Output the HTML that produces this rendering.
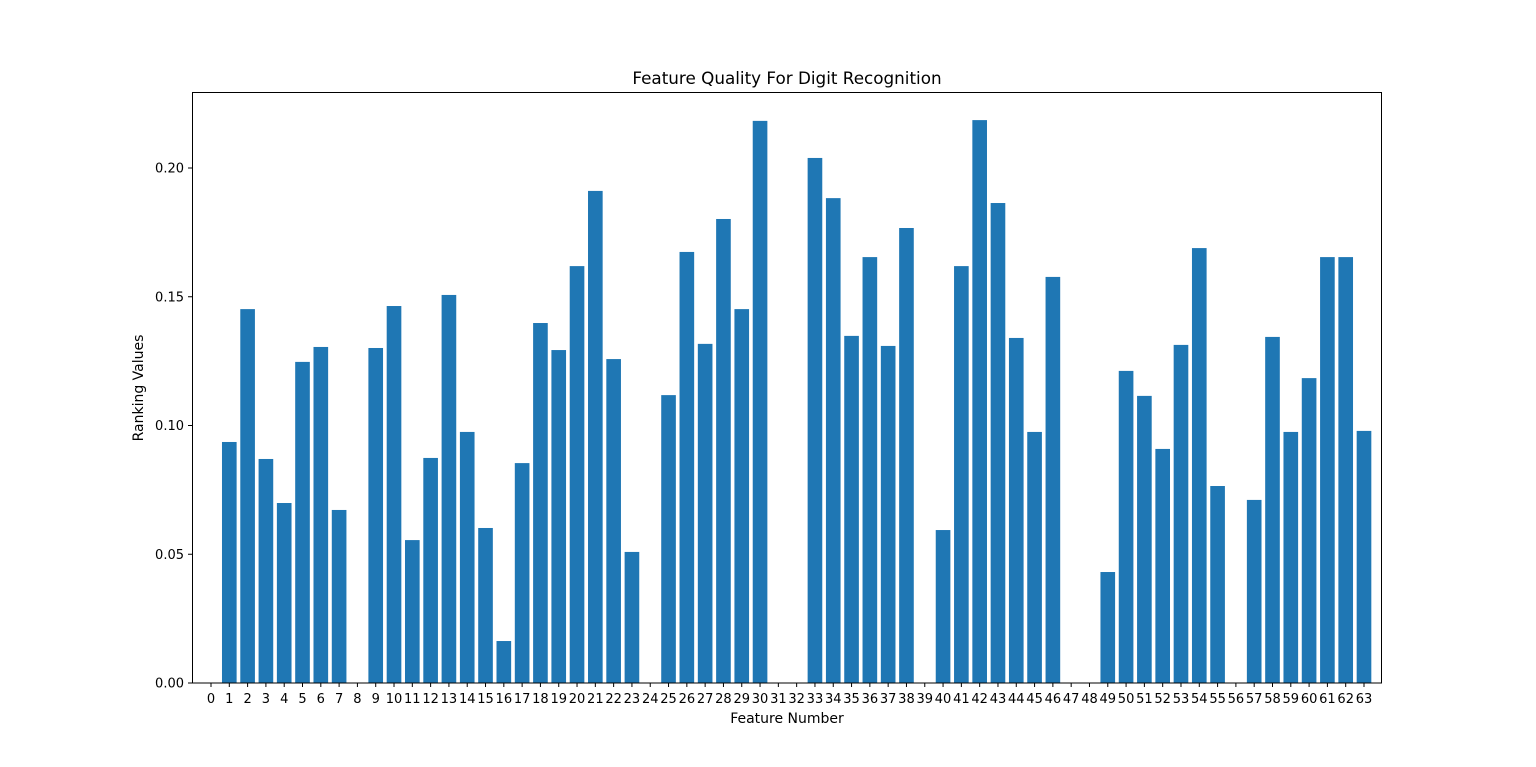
<!DOCTYPE html>
<html><head><meta charset="utf-8"><style>
html,body{margin:0;padding:0;background:#fff;}
svg{display:block;font-family:"DejaVu Sans","Liberation Sans",sans-serif;}
</style></head><body>
<svg id="chart" width="1536" height="767" viewBox="0 0 1536 767" xmlns="http://www.w3.org/2000/svg">
<text x="787" y="84" font-size="16.8" text-anchor="middle">Feature Quality For Digit Recognition</text>
<text x="787" y="723" font-size="14" text-anchor="middle">Feature Number</text>
<text x="0" y="0" font-size="14" text-anchor="middle" transform="translate(143,388) rotate(-90)">Ranking Values</text>
<g id="bars"></g><g id="ticks"></g>
<rect x="192.5" y="92.5" width="1189" height="590.5" fill="none" stroke="#000" stroke-width="1"/>
</svg>
<script>
const categories = Array.from({length:64},(_,i)=>String(i));
const values = [0,0.0936,0.1452,0.087,0.0699,0.1247,0.1305,0.0672,0,0.1301,0.1464,0.0555,0.0874,0.1507,0.0975,0.0602,0.0163,0.0854,0.1398,0.1293,0.1619,0.1911,0.1258,0.0509,0,0.1118,0.1674,0.1317,0.1802,0.1452,0.2183,0,0,0.2039,0.1883,0.1348,0.1654,0.1309,0.1767,0,0.0594,0.1619,0.2186,0.1864,0.134,0.0975,0.1577,0,0,0.0431,0.1212,0.1115,0.0909,0.1313,0.1689,0.0765,0,0.0711,0.1344,0.0975,0.1184,0.1654,0.1654,0.0979];
const yTicks = [0,0.05,0.10,0.15,0.20];
const yTickLabels = ["0.00","0.05","0.10","0.15","0.20"];

const NS="http://www.w3.org/2000/svg";
const x0=211, step=(1364-211)/63, bw=step*0.8;
const xScale=i=>x0+i*step;
const yScale=v=>683-v*2575;
const bars=document.getElementById('bars'), ticks=document.getElementById('ticks');
values.forEach((v,i)=>{
  const r=document.createElementNS(NS,'rect');
  
  
  const top=yScale(v);
  r.setAttribute('x',xScale(i)-bw/2);r.setAttribute('y',top);
  r.setAttribute('width',bw);r.setAttribute('height',683-top);
  r.setAttribute('fill','#1f77b4');
  bars.appendChild(r);
  const t=document.createElementNS(NS,'line');
  
  
  t.setAttribute('x1',xScale(i));t.setAttribute('x2',xScale(i));
  t.setAttribute('y1',683);t.setAttribute('y2',687);t.setAttribute('stroke','#000');
  ticks.appendChild(t);
  const l=document.createElementNS(NS,'text');
  
  
  l.setAttribute('x',xScale(i));l.setAttribute('y',703);
  l.setAttribute('font-size','13');l.setAttribute('text-anchor','middle');
  l.textContent=categories[i];
  ticks.appendChild(l);
});
yTicks.forEach((v,i)=>{
  const y=yScale(v);
  const t=document.createElementNS(NS,'line');
  
  
  t.setAttribute('x1',188);t.setAttribute('x2',192);
  t.setAttribute('y1',y);t.setAttribute('y2',y);t.setAttribute('stroke','#000');
  ticks.appendChild(t);
  const l=document.createElementNS(NS,'text');
  
  
  l.setAttribute('x',184);l.setAttribute('y',y+4.5);
  l.setAttribute('font-size','13');l.setAttribute('text-anchor','end');
  l.textContent=yTickLabels[i];
  ticks.appendChild(l);
});
</script>
</body></html>
